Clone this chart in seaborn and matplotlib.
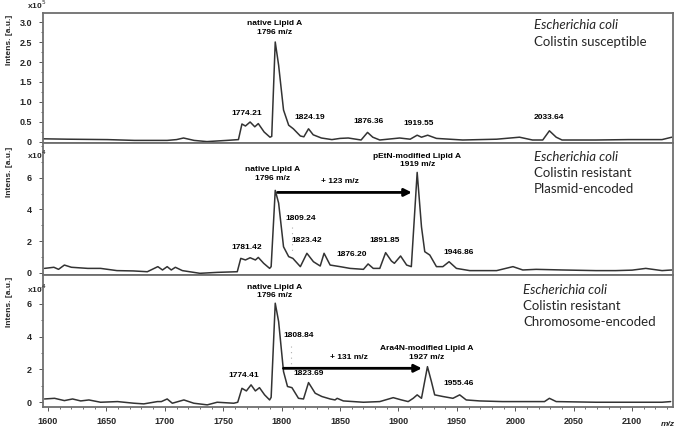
import matplotlib
matplotlib.use("Agg")
import matplotlib.pyplot as plt
from matplotlib.ticker import MultipleLocator
import pandas as pd
import seaborn as sns

# spectra: (m/z, intensity)
susceptible = [  # x10^5
    (1596, 0.08), (1617, 0.07), (1651, 0.06), (1674, 0.04), (1702, 0.04), (1710, 0.06),
    (1716, 0.10), (1725, 0.04), (1736, 0.01), (1753, 0.04), (1763, 0.06), (1766, 0.45),
    (1769, 0.40), (1773, 0.50), (1777, 0.38), (1780, 0.46), (1785, 0.25), (1790, 0.12),
    (1791.5, 0.14), (1794.5, 2.50), (1797.4, 1.92), (1801.6, 0.80), (1806, 0.42),
    (1810, 0.33), (1816, 0.15), (1819, 0.13), (1823, 0.33), (1827, 0.18), (1834, 0.10),
    (1843, 0.06), (1850, 0.09), (1857, 0.10), (1868, 0.05), (1873.5, 0.24), (1878, 0.12),
    (1884, 0.05), (1901, 0.10), (1910, 0.07), (1916, 0.17), (1919.7, 0.12), (1925, 0.17),
    (1932.5, 0.09), (1955, 0.05), (1984, 0.07), (2003.6, 0.12), (2014.7, 0.05),
    (2023.5, 0.05), (2029.2, 0.28), (2035, 0.12), (2040, 0.05), (2069, 0.05), (2097, 0.06),
    (2125.6, 0.06), (2134, 0.12),
]
plasmid = [  # x10^4
    (1597, 0.29), (1605, 0.36), (1609, 0.23), (1614, 0.50), (1620, 0.36), (1634, 0.29),
    (1645, 0.29), (1659, 0.15), (1673, 0.13), (1685, 0.08), (1694, 0.40), (1698, 0.19),
    (1702, 0.40), (1705.5, 0.19), (1709, 0.36), (1715, 0.15), (1730, -0.02), (1745, 0.04),
    (1762, 0.08), (1765, 0.92), (1769, 0.82), (1773, 0.96), (1777.5, 0.82), (1780, 0.98),
    (1784.6, 0.61), (1789.7, 0.29), (1791, 0.40), (1794.5, 5.20), (1797.4, 4.40),
    (1801.6, 1.65), (1806, 1.03), (1809.6, 0.92), (1816, 0.40), (1821.6, 1.24),
    (1827.2, 0.71), (1833, 0.44), (1836.3, 1.24), (1841.5, 0.50), (1850, 0.40),
    (1858.5, 0.29), (1870, 0.23), (1874, 0.57), (1878.4, 0.29), (1884, 0.29), (1889, 1.28),
    (1894, 0.75), (1896.5, 0.61), (1901.8, 1.07), (1907, 0.50), (1911, 0.40), (1916, 6.33),
    (1919.7, 2.90), (1922.5, 1.34), (1926.8, 1.13), (1932.5, 0.40), (1938, 0.40),
    (1943.3, 0.71), (1949.6, 0.29), (1961, 0.15), (1984, 0.15), (1998, 0.40), (2006.4, 0.19),
    (2017.8, 0.23), (2040.5, 0.19), (2069, 0.15), (2086, 0.15), (2100, 0.18), (2111.7, 0.29),
    (2125.6, 0.15), (2134, 0.19),
]
chromosome = [  # x10^4
    (1597, 0.20), (1605.6, 0.24), (1614, 0.10), (1621, 0.20), (1628, 0.08), (1635, 0.14),
    (1645, 0.00), (1659.5, 0.04), (1673.6, -0.06), (1682, -0.10), (1693.6, 0.04),
    (1697, 0.04), (1702, 0.20), (1706.4, -0.06), (1716.3, 0.14), (1724.8, -0.06),
    (1736.3, -0.16), (1744.8, 0.00), (1759, -0.06), (1762.4, 0.00), (1766, 0.85),
    (1769.8, 0.69), (1773.8, 1.06), (1777.5, 0.69), (1781, 0.89), (1785.4, 0.45),
    (1789.7, 0.14), (1791, 0.30), (1794.5, 6.04), (1797.4, 4.92), (1801.6, 1.87),
    (1805, 0.96), (1808.8, 0.89), (1814.4, 0.24), (1818.7, 0.20), (1823, 1.20),
    (1828.7, 0.55), (1834.4, 0.35), (1841.5, 0.20), (1845.7, 0.14), (1847.5, 0.24),
    (1852.8, 0.08), (1870, 0.00), (1884, 0.04), (1895.5, 0.28), (1902.6, 0.14),
    (1908.3, 0.04), (1912.6, 0.24), (1916, 0.45), (1919.7, 0.24), (1924.8, 2.17),
    (1928.2, 1.26), (1931, 0.45), (1938, 0.35), (1946.6, 0.24), (1952.4, 0.45), (1958, 0.14),
    (1969.5, 0.08), (1989, 0.04), (2012, 0.04), (2025, 0.04), (2029.2, 0.24), (2035, 0.04),
    (2069, 0.00), (2125.6, 0.00), (2133, 0.04),
]

# peak labels: (text, m/z, height)
peaks_susceptible = [("1774.21", 1770, 0.72), ("1824.19", 1824.3, 0.62),
                     ("1876.36", 1874, 0.51), ("1919.55", 1917.6, 0.45),
                     ("2033.64", 2029, 0.60)]
peaks_plasmid = [("1781.42", 1770, 1.62), ("1809.24", 1816.6, 3.40),
                 ("1823.42", 1821.5, 2.03), ("1876.20", 1860, 1.18),
                 ("1891.85", 1888.5, 2.03), ("1946.86", 1951.3, 1.28)]
peaks_chromosome = [("1774.41", 1767.2, 1.66), ("1808.84", 1814.3, 4.04),
                    ("1823.69", 1822.9, 1.77), ("1955.46", 1951.3, 1.16)]

x_ticks = [1600, 1650, 1700, 1750, 1800, 1850, 1900, 1950, 2000, 2050, 2100]
y_ticks_top = [0, 0.5, 1.0, 1.5, 2.0, 2.5, 3.0]
y_labels_top = ["0", "0.5", "1.0", "1.5", "2.0", "2.5", "3.0"]
y_ticks_low = [0, 2, 4, 6]
y_labels_low = ["0", "2", "4", "6"]

titles = [["Escherichia coli", "Colistin susceptible"],
          ["Escherichia coli", "Colistin resistant", "Plasmid-encoded"],
          ["Escherichia coli", "Colistin resistant", "Chromosome-encoded"]]

sns.set_style("white")
plt.rcParams["font.family"] = ["Liberation Sans", "DejaVu Sans"]

W, H = 676, 429
fig = plt.figure(figsize=(W / 100, H / 100), dpi=100)


def px_axes(top, bottom):
    return fig.add_axes([43 / W, 1 - bottom / H, 630 / W, (bottom - top) / H])


ax1 = px_axes(13, 143)
ax2 = px_axes(143, 275)
ax3 = px_axes(275, 407)

line_c = "#333333"
frame_c = "#6e6e6e"
lab_kw = dict(fontsize=6, fontweight="bold", ha="center", va="center", color="black")

specs = [(ax1, susceptible, (-0.025, 3.225)),
         (ax2, plasmid, (-0.126, 8.18)),
         (ax3, chromosome, (-0.29, 7.76))]
for ax, spec, ylim in specs:
    df = pd.DataFrame(spec, columns=["mz", "intens"])
    sns.lineplot(data=df, x="mz", y="intens", ax=ax, color=line_c, linewidth=1.1,
                 solid_joinstyle="round")
    ax.set_xlim(1595.7, 2135)
    ax.set_ylim(*ylim)
    ax.set_xlabel("")
    ax.set_ylabel("")
    for s in ax.spines.values():
        s.set_color(frame_c)
        s.set_linewidth(1.3)
    ax.tick_params(axis="y", direction="out", length=3, width=0.7, color="#555555",
                   labelsize=6.5, pad=5, left=True)
    ax.tick_params(axis="y", which="minor", direction="out", length=1.5, width=0.6,
                   color="#555555", left=True)

ax1.set_yticks(y_ticks_top)
ax1.set_yticklabels(y_labels_top, fontweight="bold")
ax1.yaxis.set_minor_locator(MultipleLocator(0.25))
for ax in (ax2, ax3):
    ax.set_yticks(y_ticks_low)
    ax.set_yticklabels(y_labels_low, fontweight="bold")
    ax.yaxis.set_minor_locator(MultipleLocator(1))

for ax in (ax1, ax2):
    ax.set_xticks([])
    ax.tick_params(axis="x", which="both", bottom=False, labelbottom=False)

ax3.set_xticks(x_ticks)
ax3.set_xticklabels([str(v) for v in x_ticks], fontweight="bold")
ax3.xaxis.set_minor_locator(MultipleLocator(10))
ax3.tick_params(axis="x", direction="out", length=3, width=0.7, color="#555555",
                labelsize=6.5, pad=4, bottom=True)
ax3.tick_params(axis="x", which="minor", direction="out", length=1.5, width=0.6,
                color="#555555", bottom=True)

# peak labels
for ax, peaks in ((ax1, peaks_susceptible), (ax2, peaks_plasmid), (ax3, peaks_chromosome)):
    for txt, x, y in peaks:
        ax.text(x, y, txt, **lab_kw)

ax1.text(1794.3, 2.85, "native Lipid A\n1796 m/z", linespacing=1.3, **lab_kw)
ax2.text(1791.8, 6.23, "native Lipid A\n1796 m/z", linespacing=1.3, **lab_kw)
ax2.text(1916, 7.09, "pEtN-modified Lipid A\n1919 m/z", linespacing=1.3, **lab_kw)
ax2.text(1850, 5.74, "+ 123 m/z", **lab_kw)
ax3.text(1794.3, 6.74, "native Lipid A\n1796 m/z", linespacing=1.3, **lab_kw)
ax3.text(1924.2, 3.0, "Ara4N-modified Lipid A\n1927 m/z", linespacing=1.3, **lab_kw)
ax3.text(1857.7, 2.72, "+ 131 m/z", **lab_kw)

# mass shift arrows
arrow_kw = dict(arrowstyle="-|>", color="black", lw=2, mutation_scale=11, shrinkA=0, shrinkB=0)
ax2.annotate("", xy=(1911.4, 5.07), xytext=(1796.5, 5.07), arrowprops=arrow_kw)
ax3.annotate("", xy=(1920, 2.07), xytext=(1801.5, 2.07), arrowprops=arrow_kw)

# faint dotted marker lines
ax2.plot([1808.6, 1808.6], [2.9, 1.2], color="#b0b0b0", lw=0.8, ls=(0, (1, 4)))
ax3.plot([1807.8, 1807.8], [3.45, 2.35], color="#b0b0b0", lw=0.8, ls=(0, (1, 4)))

# sample descriptions
title_x = [534, 534, 523]
title_y = [[25, 42], [157, 173, 189], [290, 306, 322]]
for names, tx, tys in zip(titles, title_x, title_y):
    for i, (name, ty) in enumerate(zip(names, tys)):
        fig.text(tx / W, 1 - ty / H, name, fontsize=9.5, family=["Lato", "DejaVu Sans"],
                 style="italic" if i == 0 else "normal", ha="left", va="center")

# axis decorations
for ty in (40, 172, 302):
    fig.text(10 / W, 1 - ty / H, "Intens. [a.u.]", rotation=90, fontsize=6,
             fontweight="bold", ha="center", va="center")
for ty, exp in ((5, "5"), (155, "4"), (289, "4")):
    fig.text(37 / W, 1 - ty / H, r"x10$^{%s}$" % exp, fontsize=6, fontweight="bold",
             ha="center", va="center")
fig.text(668 / W, 1 - 425 / H, "m/z", fontsize=6, fontweight="bold", style="italic",
         ha="center", va="center")

fig.savefig("out.png", dpi=100, facecolor="white")
